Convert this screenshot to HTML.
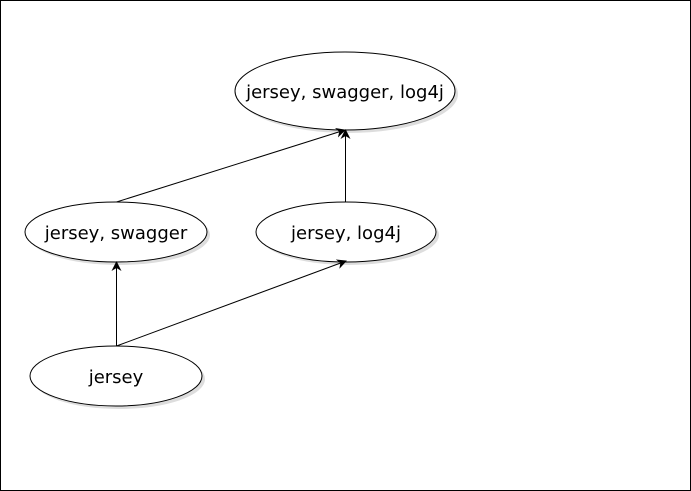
<!DOCTYPE html>
<html><head><meta charset="utf-8"><style>
html,body{margin:0;padding:0;background:#fff;}
svg{display:block;}
text{font-family:"DejaVu Sans","Liberation Sans",sans-serif;font-size:18px;fill:#000;}
</style></head><body>
<svg width="691" height="491" viewBox="0 0 691 491" xmlns="http://www.w3.org/2000/svg">
<defs>
<marker id="a" markerWidth="12" markerHeight="12" refX="9" refY="5" orient="auto" markerUnits="userSpaceOnUse">
<path d="M0,0 L10,5 L0,10 L3,5 Z" fill="#000"/>
</marker>
</defs>
<rect x="0.5" y="0.5" width="690" height="490" fill="#fff" stroke="#000"/>
<g fill="#ddd">
<ellipse cx="348" cy="94" rx="110" ry="39"/>
<ellipse cx="119" cy="235" rx="91" ry="30"/>
<ellipse cx="349" cy="235" rx="90" ry="30"/>
<ellipse cx="119" cy="379" rx="86" ry="30"/>
</g>
<g fill="#fff" stroke="#000" stroke-width="1">
<ellipse cx="345" cy="91" rx="110" ry="39"/>
<ellipse cx="116" cy="232" rx="91" ry="30"/>
<ellipse cx="346" cy="232" rx="90" ry="30"/>
<ellipse cx="116" cy="376" rx="86" ry="30"/>
</g>
<g stroke="#000" stroke-width="1" fill="none">
<line x1="116.5" y1="346" x2="116.5" y2="262" marker-end="url(#a)"/>
<line x1="116.5" y1="346" x2="346" y2="261" marker-end="url(#a)"/>
<line x1="116.5" y1="202" x2="345" y2="130" marker-end="url(#a)"/>
<line x1="345.5" y1="202" x2="345.5" y2="130" marker-end="url(#a)"/>
</g>
<text x="345" y="98" text-anchor="middle">jersey, swagger, log4j</text>
<text x="116" y="239" text-anchor="middle">jersey, swagger</text>
<text x="346" y="239" text-anchor="middle">jersey, log4j</text>
<text x="116" y="383" text-anchor="middle">jersey</text>
</svg>
</body></html>
